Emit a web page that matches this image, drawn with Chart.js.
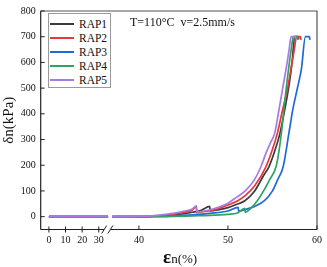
<!DOCTYPE html>
<html><head><meta charset="utf-8">
<script src="https://cdn.jsdelivr.net/npm/chart.js@4/dist/chart.umd.min.js"></script>
<style>
html,body{margin:0;padding:0;background:#fff;}
#wrap{position:relative;width:327px;height:267px;font-family:'Liberation Serif','Times New Roman',serif;color:#111;overflow:hidden;}
#c{position:absolute;left:0;top:0;}
.legend{position:absolute;left:48px;top:13px;width:63px;height:75px;border:1px solid #9a9a9a;background:#fff;box-sizing:border-box;}
.row{position:absolute;left:0;height:14px;width:100%;font-size:11.5px;line-height:14px;}
.row .ln{position:absolute;left:1px;top:6px;width:24px;height:2px;}
.row .tx{position:absolute;left:30px;top:0;}
.note{position:absolute;left:130px;top:15px;font-size:12px;white-space:pre;line-height:14px;}
.xt{position:absolute;left:163px;top:248px;white-space:nowrap;line-height:18px;}
</style></head>
<body>
<div id="wrap">
<canvas id="c" width="327" height="267"></canvas>
<div class="legend" id="legend"></div>
<div class="note">T=110°C  v=2.5mm/s</div>
<div class="xt"><span style="font-size:19px;font-weight:bold">ε</span><span style="font-size:13px">n(%)</span></div>
</div>
<script>
// ---- data ----
const seriesLabels = ['RAP1','RAP2','RAP3','RAP4','RAP5'];
const seriesColors = ['#3b3b3b','#e8363c','#1e6ad6','#2fa360','#a97be0'];
const xTickValues = [0,10,20,30,40,50,60];
const xTickLabels = ['0','10','20','30','40','50','60'];
const yTickValues = [0,100,200,300,400,500,600,700,800];

// segment before the axis break (all series flat at 0)
const leftX = [0, 35.6];
const leftY = [0, 0];

const rap1X = [37,40,42,44,46,47,47.95,48.0,49,50,51,51.9,53,54,54.6,55.3,55.85,56.4,56.9,57.2,57.5,57.9,57.95];
const rap1Y = [0,0,2,7,17,25,40,22,27,35,48,62,100,160,194,260,326,420,520,600,700,700,690];

const rap2X = [37,40,42,44,45,46,46.45,46.5,47,48,49,50,51.1,52,53,54.26,55,55.56,56.1,56.7,57.15,57.45,57.7,58.15,58.2];
const rap2Y = [0,0,3,10,16,26,40,16,18,23,32,45,62,84,120,194,262,326,410,500,590,650,700,700,688];

const rap3X = [37,40,42,44,46,48,50,51.15,51.2,52,53,54.1,55,55.6,56.2,56.85,57.3,57.8,58.25,58.7,59.15,59.2];
const rap3Y = [0,0,1,3,7,13,22,36,21,28,40,62,100,145,194,326,420,500,575,700,700,688];

const rap4X = [37,42,44,46,48,50,51,51.9,51.95,52.5,53.3,54,54.7,55.4,55.75,56.05,56.35,56.65,56.9,57.1,57.35,57.8,57.85];
const rap4Y = [0,0,1,3,5,9,13,32,17,30,62,100,145,194,260,340,440,530,600,650,700,700,688];

const rap5X = [37,40,42,44,45,46,46.45,46.5,47,48,49,50,50.4,51,52,53,53.7,54.3,54.8,55.26,55.7,56.15,56.6,56.85,57.1,57.55,57.6];
const rap5Y = [0,1,5,14,21,30,42,18,20,27,37,52,62,76,102,145,194,250,289,326,410,500,590,645,700,700,690];

const seriesX = [rap1X, rap2X, rap3X, rap4X, rap5X];
const seriesY = [rap1Y, rap2Y, rap3Y, rap4Y, rap5Y];

// broken x axis: compress 0..36 onto a short segment
const U0 = 29.89, KL = 0.1867;
function toU(x){ return x <= 36 ? U0 + x * KL : x; }

function buildData(xs, ys){
  const pts = leftX.map((x,i)=>({x: toU(x), y: leftY[i]}));
  pts.push({x: 36.8, y: null});
  xs.forEach((x,i)=>pts.push({x: toU(x), y: ys[i]}));
  return pts;
}

const datasets = seriesLabels.map((lab,i)=>({
  label: lab,
  data: buildData(seriesX[i], seriesY[i]),
  borderColor: seriesColors[i],
  backgroundColor: seriesColors[i],
  borderWidth: 1.7,
  pointRadius: 0,
  cubicInterpolationMode: 'monotone',
  spanGaps: false,
  order: seriesLabels.length - 1 - i
}));

// legend (html)
const lg = document.getElementById('legend');
seriesLabels.forEach((lab,i)=>{
  const r = document.createElement('div');
  r.className='row'; r.style.top = (2.5 + i*14.1)+'px';
  r.innerHTML = '<div class="ln" style="background:'+seriesColors[i]+'"></div><div class="tx">'+lab+'</div>';
  lg.appendChild(r);
});

const frame = {
  id:'frame',
  afterDraw(chart){
    const {ctx, chartArea:{left,right,top,bottom}, scales:{x,y}} = chart;
    ctx.save();
    ctx.lineWidth = 1.2;
    ctx.strokeStyle = '#555';
    ctx.beginPath(); ctx.moveTo(left,top); ctx.lineTo(right,top); ctx.lineTo(right,bottom); ctx.stroke();
    ctx.strokeStyle = '#222';
    ctx.beginPath(); ctx.moveTo(left,top); ctx.lineTo(left,bottom); ctx.stroke();
    const g1 = x.getPixelForValue(36.1), g2 = x.getPixelForValue(36.8);
    ctx.beginPath(); ctx.moveTo(left,bottom); ctx.lineTo(g1,bottom);
    ctx.moveTo(g2,bottom); ctx.lineTo(right,bottom); ctx.stroke();
    ctx.lineWidth = 1;
    [g1,g2].forEach(p=>{ctx.beginPath(); ctx.moveTo(p-2.5,bottom+4); ctx.lineTo(p+2.5,bottom-4); ctx.stroke();});
    x.ticks.forEach(t=>{
      const p = x.getPixelForValue(t.value);
      ctx.beginPath();
      if (t.value < 37) { ctx.moveTo(p,bottom-3); ctx.lineTo(p,bottom+3); }
      else { ctx.moveTo(p,bottom); ctx.lineTo(p,bottom-4); }
      ctx.stroke();
    });
    y.ticks.forEach(t=>{
      const p = y.getPixelForValue(t.value);
      ctx.beginPath(); ctx.moveTo(left,p); ctx.lineTo(left+4,p); ctx.stroke();
    });
    ctx.restore();
  }
};

const tickFont = {family:"'Liberation Serif','Times New Roman',serif", size:10};
new Chart(document.getElementById('c'), {
  type:'line',
  data:{datasets},
  options:{
    responsive:false, animation:false, devicePixelRatio:1,
    layout:{padding:{top:4.7,right:7,left:0,bottom:0}},
    plugins:{legend:{display:false}, tooltip:{enabled:false}},
    scales:{
      x:{
        type:'linear', min:28.97, max:60,
        grid:{display:false, drawTicks:false}, border:{display:false},
        ticks:{font:tickFont, color:'#111', padding:5, autoSkip:false, maxRotation:0,
          callback:(v,i)=>xTickLabels[i]},
        afterBuildTicks(s){ s.ticks = xTickValues.map(v=>({value: toU(v)})); },
        afterFit(s){ s.height = 37.5; }
      },
      y:{
        type:'linear', min:-50, max:800,
        grid:{display:false, drawTicks:false}, border:{display:false},
        ticks:{font:tickFont, color:'#111', padding:5},
        afterBuildTicks(s){ s.ticks = yTickValues.map(v=>({value:v})); },
        afterFit(s){ s.width = 40.7; },
        title:{display:true, text:'δn(kPa)', color:'#111',
          font:{family:"'Liberation Serif','Times New Roman',serif", size:15}, padding:{top:0,bottom:0}}
      }
    }
  },
  plugins:[frame]
});
</script>
</body></html>
